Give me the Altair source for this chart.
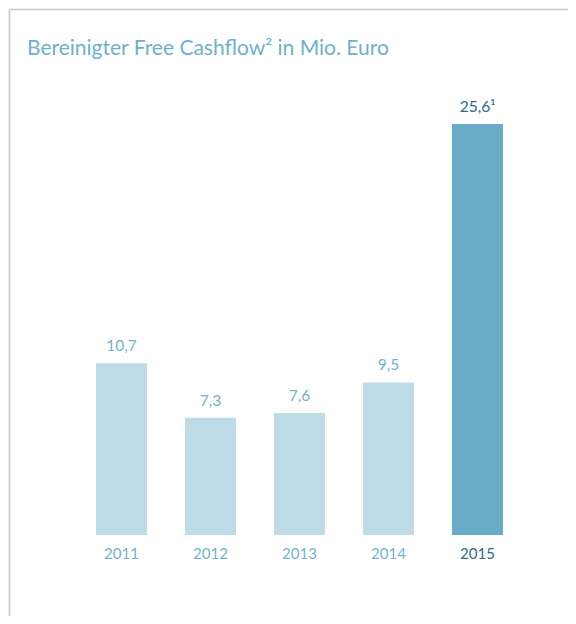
import altair as alt
import pandas as pd

years = ["2011", "2012", "2013", "2014", "2015"]
values = [10.7, 7.3, 7.6, 9.5, 25.6]
labels = ["10,7", "7,3", "7,6", "9,5", "25,6\u00b9"]
bar_colors = ["#bedbe8", "#bedbe8", "#bedbe8", "#bedbe8", "#6aabc8"]
text_colors = ["#72b2d0", "#72b2d0", "#72b2d0", "#72b2d0", "#2b6a8c"]

df = pd.DataFrame({"year": years, "value": values, "label": labels,
                   "bc": bar_colors, "tc": text_colors})

W, H = 560, 608
FONT = "Lato"

x = alt.X("year:N", sort=years, axis=None,
          scale=alt.Scale(range=[69, 514], paddingInner=0.427, paddingOuter=0.2135))
y = alt.Y("value:Q", axis=None,
          scale=alt.Scale(domain=[0, 25.6], range=[527, 116], nice=False, zero=True))

base = alt.Chart(df)

bars = base.mark_bar().encode(x=x, y=y, color=alt.Color("bc:N", scale=None))

vals = base.mark_text(font=FONT, fontSize=15.5, baseline="alphabetic", dy=-12).encode(
    x=x, y=y, text="label:N", color=alt.Color("tc:N", scale=None))

yrs = base.mark_text(font=FONT, fontSize=15, baseline="alphabetic").encode(
    x=x, y=alt.value(551), text="year:N", color=alt.Color("tc:N", scale=None))

title = alt.Chart(pd.DataFrame({"t": ["Bereinigter Free Cashflow\u00b2 in Mio. Euro"]})).mark_text(
    font=FONT, fontSize=21, align="left", baseline="alphabetic", color="#6eb0cf"
).encode(x=alt.value(19), y=alt.value(47), text="t:N")

line_top = alt.Chart(pd.DataFrame({"a": [0]})).mark_rule(color="#c8c8c8", strokeWidth=1.5).encode(
    x=alt.value(1.5), x2=alt.value(W), y=alt.value(1.5))
line_left = alt.Chart(pd.DataFrame({"a": [0]})).mark_rule(color="#c8c8c8", strokeWidth=1.5).encode(
    x=alt.value(1.5), y=alt.value(1.5), y2=alt.value(H))

chart = alt.layer(line_top, line_left, bars, vals, yrs, title).properties(
    width=W, height=H, autosize="none", padding=0
).configure_view(stroke=None)

chart.save("out.html", embed_options={"renderer": "svg", "actions": False})
